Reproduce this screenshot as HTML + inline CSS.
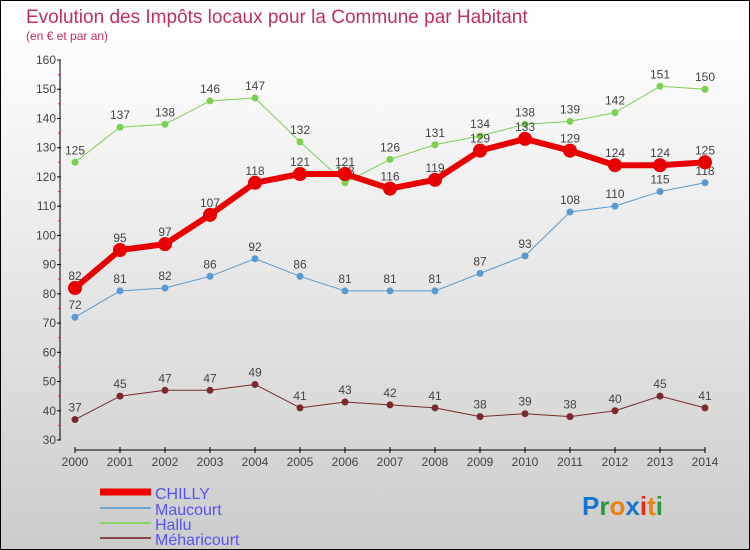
<!DOCTYPE html>
<html><head><meta charset="utf-8"><style>
body{margin:0}
#c{width:750px;height:550px;position:relative;background:linear-gradient(#fff,#fafafa 15%,#ccc);border:1px solid #000;box-sizing:border-box;overflow:hidden;font-family:"Liberation Sans",sans-serif}
</style></head><body>
<div id="c">
<svg id="s" width="750" height="550" style="position:absolute;left:-1px;top:-1px">
<text x="26" y="23" font-size="19" fill="#c0305a">Evolution des Impôts locaux pour la Commune par Habitant</text>
<text x="26" y="40" font-size="12" fill="#c0305a">(en € et par an)</text>
<g id="ax"></g><g id="ser"></g>
<g>
<line x1="100" y1="492" x2="151" y2="492" stroke="#e00" stroke-width="7"/>
<text x="155" y="499" font-size="16" fill="#5555ee">CHILLY</text>
<line x1="100" y1="508" x2="151" y2="508" stroke="#6aa6d0" stroke-width="2"/>
<text x="155" y="515" font-size="16" fill="#5555ee">Maucourt</text>
<line x1="100" y1="523" x2="151" y2="523" stroke="#88d468" stroke-width="2"/>
<text x="155" y="530" font-size="16" fill="#5555ee">Hallu</text>
<line x1="100" y1="538" x2="151" y2="538" stroke="#8b4848" stroke-width="2"/>
<text x="155" y="545" font-size="16" fill="#5555ee">Méharicourt</text>
</g>
<text x="582" y="515" font-size="26" font-weight="bold"><tspan fill="#1a75d0">P</tspan><tspan fill="#2a9a40">r</tspan><tspan fill="#f08010">o</tspan><tspan fill="#1a75d0">x</tspan><tspan fill="#e03010">i</tspan><tspan fill="#f08010">t</tspan><tspan fill="#2a9a40">i</tspan></text>
</svg>
</div>
<script>
const years=[2000,2001,2002,2003,2004,2005,2006,2007,2008,2009,2010,2011,2012,2013,2014];
const yTicks=[30,40,50,60,70,80,90,100,110,120,130,140,150,160];
const chilly=[82,95,97,107,118,121,121,116,119,129,133,129,124,124,125];
const maucourt=[72,81,82,86,92,86,81,81,81,87,93,108,110,115,118];
const hallu=[125,137,138,146,147,132,118,126,131,134,138,139,142,151,150];
const meharicourt=[37,45,47,47,49,41,43,42,41,38,39,38,40,45,41];
const NS="http://www.w3.org/2000/svg";
const X=i=>75+i*(630/14);
const Y=v=>440-(v-30)*(380/130);
function mk(tag,attrs,parent,txt){const e=document.createElementNS(NS,tag);for(const k in attrs)e.setAttribute(k,attrs[k]);if(txt!==undefined)e.textContent=txt;parent.appendChild(e);return e;}
const ax=document.getElementById('ax');
let a=mk('line',{x1:60,y1:60,x2:60,y2:440,stroke:'#000'},ax);


a=mk('line',{x1:75,y1:450,x2:705,y2:450,stroke:'#000'},ax);


yTicks.forEach(v=>{
 mk('line',{x1:57,y1:Y(v),x2:61,y2:Y(v),stroke:'#000'},ax);
 if(v<160)mk('line',{x1:58,y1:Y(v+5),x2:61,y2:Y(v+5),stroke:'#e33'},ax);
 const t=mk('text',{x:56,y:Y(v)+4,'font-size':12,fill:'#444','text-anchor':'end'},ax,v);
 
 
});
years.forEach((y,i)=>{
 mk('line',{x1:X(i),y1:447,x2:X(i),y2:453,stroke:'#000'},ax);
 const t=mk('text',{x:X(i),y:466,'font-size':12,fill:'#444','text-anchor':'middle'},ax,y);
 
 
});
const ser=document.getElementById('ser');
function series(vals,col,w,r,name){
 const g=mk('g',{},ser);
 
 
 mk('polyline',{points:vals.map((v,i)=>X(i)+','+Y(v)).join(' '),fill:'none',stroke:col,'stroke-width':w,'stroke-linejoin':'round'},g);
 vals.forEach((v,i)=>{
  const c=mk('circle',{cx:X(i),cy:Y(v),r:r,fill:col},g);
  
  
  const t=mk('text',{x:X(i),y:Y(v)-8,'font-size':12,fill:'#444','text-anchor':'middle'},g,v);
  
  
 });
}
series(meharicourt,'#7a2a2a',1,3.5,'meharicourt');
series(maucourt,'#5a9ad0',1,3.5,'maucourt');
series(hallu,'#7cd050',1,3.5,'hallu');
series(chilly,'#e80000',6,7,'chilly');
</script>
</body></html>
